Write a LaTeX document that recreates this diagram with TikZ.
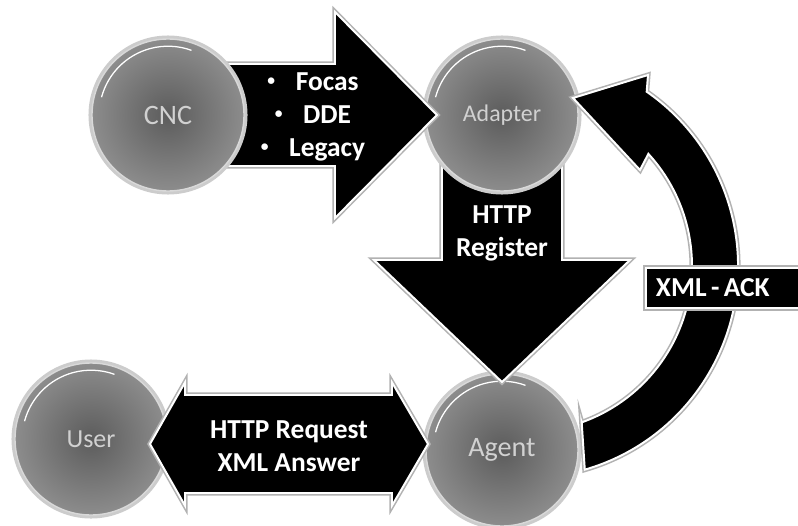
\documentclass[tikz,border=0pt]{standalone}
\usepackage{fontspec}
\setmainfont{Carlito}

\begin{document}
\begin{tikzpicture}
\tikzstyle{hub}=[circle,minimum size=3.8cm,inner sep=0pt,inner color=black!64,outer color=black!45,draw=white!85!black,line width=1pt,text=black!18,font=\fontsize{18.5}{22}\selectfont,preaction={draw=black!20,line width=5pt},path picture={\draw[white,line width=0.9pt] (path picture bounding box.center) ++(165:1.72) arc[start angle=165,end angle=70,radius=1.72];}]
\tikzstyle{blockArrow}=[fill=black,draw=white,line width=1.4pt,line join=miter,preaction={draw=black!30,line width=3.6pt}]
\tikzstyle{arrowText}=[text=white,font=\bfseries\fontsize{19.5}{23.5}\selectfont,align=center]
\tikzstyle{ackBox}=[fill=black,draw=white,line width=1.4pt,preaction={draw=black!30,line width=3.6pt},text=white,font=\bfseries\fontsize{19.5}{23.5}\selectfont,anchor=west,minimum height=1cm,text width=3.9cm,align=left,inner xsep=0.25cm]
\newcommand{\dotItem}{\raisebox{0.18em}{\fontsize{11}{11}\selectfont\textbullet}\hspace{0.75em}}

\useasboundingbox (0,0) rectangle (19.95,13.125);
\clip (0,0) rectangle (19.95,13.125);
\fill[white] (0,0) rectangle (19.95,13.125);

\node[hub] (agent) at (12.55,1.875) {\fontsize{20}{24}\selectfont Agent};
\node[hub] (user) at (2.275,2.15) {User};

%request / answer between user and agent
\draw[blockArrow] (3.75,2.025) -- (4.625,3.565) -- (4.625,3.25) -- (9.8,3.25) -- (9.8,3.565) -- (10.7,2.025)
  -- (9.8,0.485) -- (9.8,0.8) -- (4.625,0.8) -- (4.625,0.485) -- cycle;
\node[arrowText] (request) at (7.225,1.975) {HTTP Request\\XML Answer};

%register, goes under the adapter
\draw[blockArrow] (11.05,9.0) -- (14.05,9.0) -- (14.05,6.625) -- (15.75,6.625) -- (12.55,3.575)
  -- (9.35,6.625) -- (11.05,6.625) -- cycle;
\node[hub] (adapter) at (12.55,10.25) {\fontsize{17}{20}\selectfont Adapter};
\node[arrowText] (register) at (12.55,7.3) {HTTP\\Register};

%ack loop back to the adapter
\coordinate (ackC) at (13.15,6.475);
\draw[blockArrow] ([shift={(-70.4:4.15)}]ackC) -- ([shift={(-73.9:5.3)}]ackC)
  arc[start angle=-73.9,end angle=55.3,radius=5.3] -- (16.2,11.25) -- (14.325,10.675) -- (16.0,8.875)
  -- ([shift={(42.5:4.15)}]ackC) arc[start angle=42.5,end angle=-70.4,radius=4.15] -- cycle;
\node[ackBox] (ack) at (16.125,5.925) {\spaceskip=0.16em XML - ACK};

%cnc protocols
\draw[blockArrow] (5.675,11.525) -- (8.375,11.525) -- (8.375,12.825) -- (10.925,10.25) -- (8.375,7.675)
  -- (8.375,8.975) -- (5.675,8.975) -- cycle;
\node[hub] (cnc) at (4.2,10.25) {\fontsize{20}{24}\selectfont CNC};
\node[arrowText] (protocols) at (7.825,10.2) {\dotItem Focas\\\dotItem DDE\\\dotItem Legacy};

\end{tikzpicture}
\end{document}
